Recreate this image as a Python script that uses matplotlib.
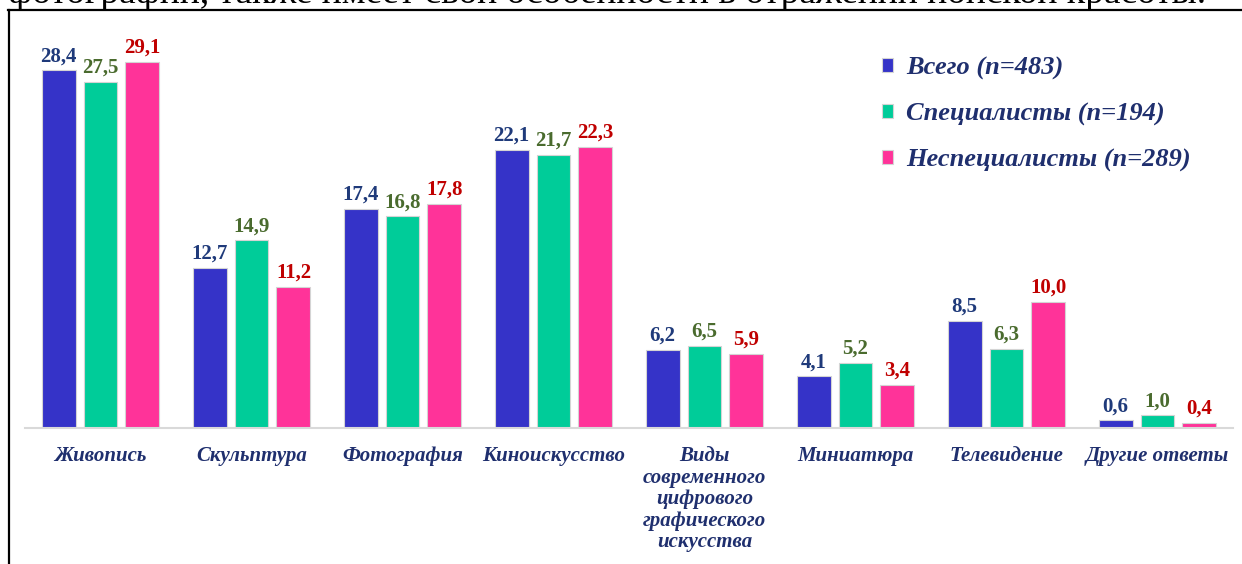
import matplotlib.pyplot as plt
from matplotlib.lines import Line2D
import numpy as np

# data
categories = ['Живопись', 'Скульптура', 'Фотография', 'Киноискусство',
              'Виды\nсовременного\nцифрового\nграфического\nискусства',
              'Миниатюра', 'Телевидение', 'Другие ответы']
total = [28.4, 12.7, 17.4, 22.1, 6.2, 4.1, 8.5, 0.6]
specialists = [27.5, 14.9, 16.8, 21.7, 6.5, 5.2, 6.3, 1.0]
nonspecialists = [29.1, 11.2, 17.8, 22.3, 5.9, 3.4, 10.0, 0.4]
series_names = ['Всего (n=483)', 'Специалисты (n=194)', 'Неспециалисты (n=289)']
top_text = 'фотографии, также имеет свои особенности в отражении ионской красоты.'

bar_colors = ['#3533C8', '#00CC99', '#FF3399']
label_colors = ['#1F3A7A', '#4A6B2E', '#C00000']
navy = '#1F2F6E'
serif = ['Liberation Serif', 'DejaVu Serif']

fig = plt.figure(figsize=(12.42, 5.64), dpi=100)
W, H = 1242, 564
ax = fig.add_axes([25 / W, 136 / H, 1208 / W, 403 / H])

x = np.arange(len(categories))
width = 0.225
step = 0.278
bars = []
for i, vals in enumerate([total, specialists, nonspecialists]):
    b = ax.bar(x + (i - 1) * step, vals, width, color=bar_colors[i],
               edgecolor='#d4d4d4', linewidth=0.8, label=series_names[i])
    bars.append(b)
    for rect, v in zip(b, vals):
        ax.annotate(f'{v:.1f}'.replace('.', ','),
                    (rect.get_x() + rect.get_width() / 2, rect.get_height()),
                    xytext=(0, 3), textcoords='offset points',
                    ha='center', va='bottom', fontsize=15, fontweight='bold',
                    family=serif, color=label_colors[i])

ax.set_xlim(-0.5, len(categories) - 0.5)
ax.set_ylim(0, 32)
ax.set_xticks(x)
ax.set_xticklabels(categories, fontsize=15, fontweight='bold', style='italic',
                   family=serif, color=navy, linespacing=1.1)
ax.tick_params(axis='x', length=0, pad=13)
ax.set_yticks([])
for s in ['top', 'left', 'right']:
    ax.spines[s].set_visible(False)
ax.spines['bottom'].set_color('#D9D9D9')
ax.spines['bottom'].set_linewidth(1.5)

leg = ax.legend(handles=bars, loc='upper left',
                bbox_to_anchor=(858 / W, 1 - 33 / H), bbox_transform=fig.transFigure,
                frameon=False, handlelength=0.42, handleheight=0.42,
                handletextpad=0.5, labelspacing=0.85, labelcolor=navy,
                prop={'family': serif, 'size': 19, 'weight': 'bold', 'style': 'italic'})

# frame of the figure on the page and the cut off text line above it
fig.add_artist(Line2D([8 / W, 1], [1 - 10 / H, 1 - 10 / H], color='black', lw=1.6))
fig.add_artist(Line2D([9 / W, 9 / W], [0, 1 - 10 / H], color='black', lw=1.6))
fig.text(8 / W, 1 - 3 / H, top_text, ha='left', va='baseline',
         fontsize=27, family=serif, color='black')

fig.savefig('out.png', dpi=100)
